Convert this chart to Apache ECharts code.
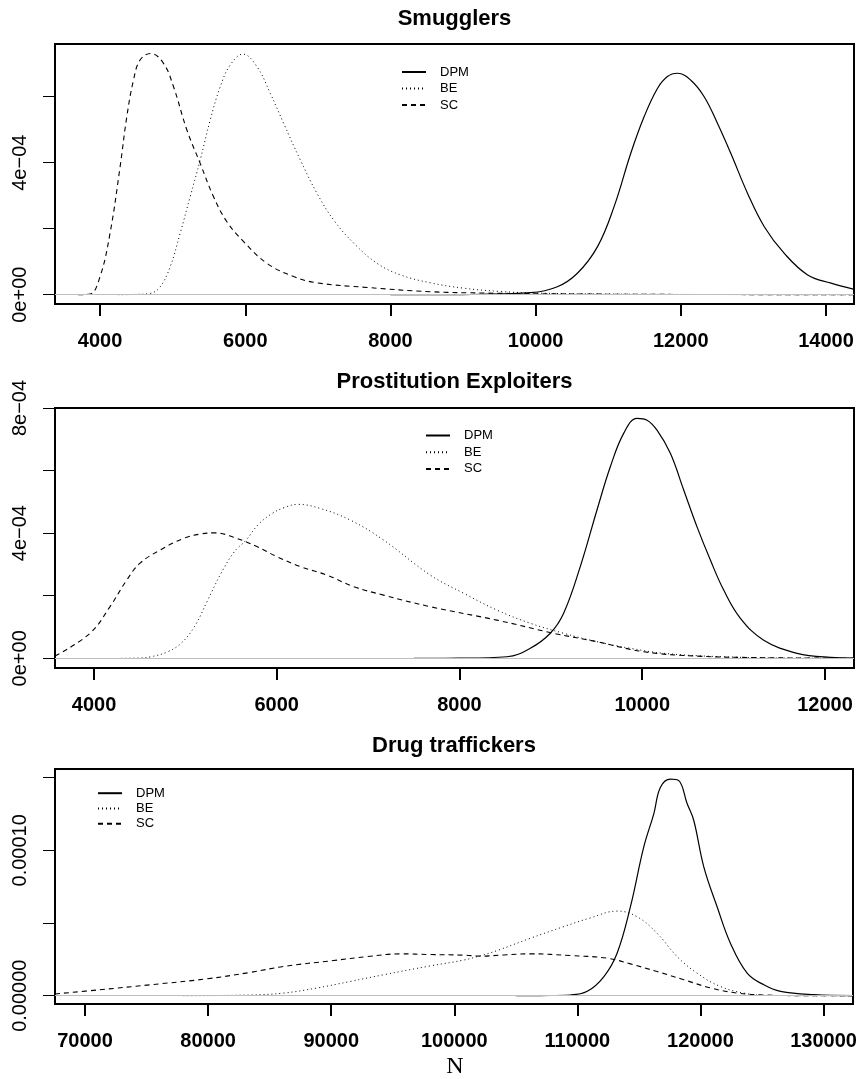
<!DOCTYPE html>
<html>
<head>
<meta charset="utf-8">
<title>Posterior densities of N</title>
<script src="https://cdn.jsdelivr.net/npm/echarts@6.0.0/dist/echarts.min.js"></script>
<style>
  html, body { margin: 0; padding: 0; background: #fff; }
  #chart { width: 858px; height: 1079px; }
</style>
</head>
<body>
<div id="chart"></div>
<script>
// ---- data (y in units of 1e-4 for panels 1,2 and 1e-5 for panel 3) ----
var panelTitles = ['Smugglers', 'Prostitution Exploiters', 'Drug traffickers'];
var seriesNames = ['DPM', 'BE', 'SC'];

// Smugglers
var smugDpmX = [8000, 9000, 9931, 10299, 10575, 10851, 11081, 11310, 11494, 11678, 11816, 11954, 12138, 12322, 12506, 12690, 12920, 13150, 13426, 13748, 14070, 14390];
var smugDpmY = [0, 0.005, 0.06, 0.24, 0.65, 1.45, 2.67, 4.28, 5.39, 6.25, 6.61, 6.71, 6.5, 6.0, 5.19, 4.28, 3.07, 2.06, 1.25, 0.6, 0.35, 0.16];
var smugBeX = [4250, 4500, 4690, 4828, 4966, 5103, 5241, 5379, 5517, 5655, 5793, 5968, 6161, 6345, 6529, 6759, 6989, 7219, 7495, 7816, 8138, 8551, 9000, 9500, 10000, 11000, 12500, 14400];
var smugBeY = [0, 0.01, 0.04, 0.24, 0.85, 1.86, 2.97, 4.08, 5.29, 6.3, 6.96, 7.29, 6.91, 6.1, 5.19, 4.08, 3.07, 2.26, 1.56, 0.95, 0.6, 0.36, 0.2, 0.1, 0.05, 0.02, 0.005, 0];
var smugScX = [3700, 3862, 4000, 4138, 4276, 4368, 4460, 4551, 4699, 4874, 5012, 5196, 5379, 5563, 5747, 5977, 6299, 6667, 6989, 7678, 8551, 9300, 10000, 11000, 12500, 14400];
var smugScY = [0, 0.02, 0.55, 1.87, 3.88, 5.39, 6.5, 7.11, 7.31, 7.01, 6.3, 4.99, 3.98, 2.97, 2.21, 1.61, 0.95, 0.55, 0.36, 0.22, 0.09, 0.05, 0.03, 0.015, 0.005, 0];

// Prostitution Exploiters
var protDpmX = [7500, 8000, 8520, 8775, 8994, 9140, 9322, 9505, 9651, 9797, 9943, 10053, 10162, 10308, 10454, 10600, 10746, 10892, 11075, 11330, 11695, 12060, 12320];
var protDpmY = [0, 0.005, 0.05, 0.32, 0.8, 1.44, 2.93, 4.74, 6.12, 7.19, 7.67, 7.61, 7.29, 6.55, 5.38, 4.2, 3.14, 2.18, 1.28, 0.58, 0.16, 0.03, 0.01];
var protBeX = [4300, 4504, 4625, 4807, 4953, 5099, 5245, 5391, 5537, 5665, 5793, 5939, 6085, 6231, 6475, 6803, 7169, 7680, 8045, 8410, 8775, 9140, 9505, 9870, 10235, 10782, 11500, 12320];
var protBeY = [0, 0.01, 0.05, 0.21, 0.48, 1.01, 1.86, 2.72, 3.41, 3.78, 4.26, 4.61, 4.82, 4.92, 4.79, 4.42, 3.78, 2.66, 2.08, 1.54, 1.12, 0.8, 0.53, 0.32, 0.16, 0.06, 0.01, 0];
var protScX = [3573, 3956, 4175, 4358, 4504, 4723, 4978, 5161, 5325, 5526, 5782, 6001, 6257, 6549, 6841, 7169, 7680, 8410, 9030, 9505, 10016, 10600, 11330, 12000, 12320];
var protScY = [0.07, 0.8, 1.65, 2.5, 3.04, 3.46, 3.83, 3.97, 4.01, 3.87, 3.57, 3.25, 2.93, 2.66, 2.29, 2.02, 1.65, 1.22, 0.8, 0.53, 0.21, 0.07, 0.02, 0.005, 0];

// Drug traffickers
var drugDpmX = [105000, 107000, 109443, 110800, 112155, 113225, 114309, 115393, 116207, 116748, 117561, 118236, 118919, 119455, 120268, 121350, 122431, 123789, 125145, 126500, 129213, 132390];
var drugDpmY = [0, 0.01, 0.05, 0.3, 1.32, 2.92, 6.12, 10.23, 12.51, 14.34, 14.9, 14.79, 13.2, 12.05, 8.86, 6.12, 3.61, 1.55, 0.75, 0.3, 0.07, 0.01];
var drugBeX = [78000, 83415, 86124, 88834, 91545, 94254, 98049, 100758, 102126, 103467, 106177, 108887, 111057, 113225, 114850, 116476, 118102, 119728, 121598, 123768, 125500, 132390];
var drugBeY = [0, 0.05, 0.18, 0.53, 0.98, 1.44, 2.05, 2.45, 2.75, 3.1, 3.95, 4.75, 5.35, 5.82, 5.43, 4.29, 2.69, 1.55, 0.64, 0.14, 0.02, 0];
var drugScX = [67561, 71220, 75285, 79894, 83415, 86124, 90191, 92902, 95610, 98049, 100758, 102126, 104000, 106191, 109443, 112423, 114309, 116480, 118642, 120837, 123008, 125175, 127000, 132390];
var drugScY = [0.12, 0.41, 0.75, 1.16, 1.6, 2.01, 2.42, 2.69, 2.88, 2.83, 2.79, 2.72, 2.8, 2.88, 2.76, 2.58, 2.19, 1.66, 1.1, 0.53, 0.18, 0.05, 0.01, 0];

var yUnits = [1e-4, 1e-4, 1e-5];

// axis ranges and ticks
var xRanges = [[3379, 14386], [3573, 12318], [67561, 132390]];
var xTicks = [[4000, 6000, 8000, 10000, 12000, 14000], [4000, 6000, 8000, 10000, 12000], [70000, 80000, 90000, 100000, 110000, 120000, 130000]];
var yRanges = [[-0.282e-4, 7.597e-4], [-0.31e-4, 8.0e-4], [-0.057e-4, 1.559e-4]];
var yTicks = [[0, 2e-4, 4e-4, 6e-4], [0, 2e-4, 4e-4, 6e-4, 8e-4], [0, 5e-5, 1e-4, 1.5e-4]];
var yTickLabels = [[0, 4e-4], [0, 4e-4, 8e-4], [0, 1e-4]];

var grids = [
    {left: 55, top: 44, width: 799, height: 260},
    {left: 55, top: 408, width: 799, height: 260},
    {left: 55, top: 769, width: 798, height: 235}
];

var FONT = '"Liberation Sans", Arial, Helvetica, sans-serif';

// R style "4e-04"
function sciLabel(v) {
    if (v === 0) return '0e+00';
    var p = v.toExponential(0).split('e');
    var e = parseInt(p[1], 10);
    var a = Math.abs(e);
    return p[0] + 'e' + (e < 0 ? '\u2212' : '+') + (a < 10 ? '0' : '') + a;
}
function fixedLabel(v) {
    return v.toFixed(5);
}

function pairs(xs, ys, unit) {
    return xs.map(function(x, i) { return [x, ys[i] * unit]; });
}

var panelData = [
    [[smugDpmX, smugDpmY], [smugBeX, smugBeY], [smugScX, smugScY]],
    [[protDpmX, protDpmY], [protBeX, protBeY], [protScX, protScY]],
    [[drugDpmX, drugDpmY], [drugBeX, drugBeY], [drugScX, drugScY]]
];

var lineTypes = ['solid', [1, 3], [5, 4]];
var lineWidths = [1.2, 1, 1.1];

var xAxes = [], yAxes = [], series = [], gridOpts = [], graphics = [];

for (var p = 0; p < 3; p++) {
    var g = grids[p];
    gridOpts.push({
        left: g.left, top: g.top, width: g.width, height: g.height,
        show: true, borderColor: '#000', borderWidth: 2,
        containLabel: false, outerBoundsMode: 'none'
    });

    xAxes.push({
        gridIndex: p, type: 'value',
        min: xRanges[p][0], max: xRanges[p][1],
        axisLine: {show: false, onZero: false},
        splitLine: {show: false},
        axisTick: {show: true, length: 12, customValues: xTicks[p], lineStyle: {color: '#000', width: 2}},
        axisLabel: {
            customValues: xTicks[p], margin: 27,
            fontSize: 20, fontWeight: 'bold', fontFamily: FONT, color: '#000',
            formatter: function(v) { return String(v); }
        }
    });

    yAxes.push({
        gridIndex: p, type: 'value',
        min: yRanges[p][0], max: yRanges[p][1],
        axisLine: {show: false, onZero: false},
        splitLine: {show: false},
        axisTick: {show: true, length: 12, customValues: yTicks[p], lineStyle: {color: '#000', width: 1}},
        axisLabel: {
            customValues: yTickLabels[p], rotate: 90, margin: 25,
            fontSize: 20, fontFamily: FONT, color: '#000',
            formatter: p === 2 ? fixedLabel : sciLabel
        }
    });

    for (var s = 0; s < 3; s++) {
        var item = {
            name: seriesNames[s], type: 'line',
            xAxisIndex: p, yAxisIndex: p,
            data: pairs(panelData[p][s][0], panelData[p][s][1], yUnits[p]),
            symbol: 'none', smooth: 0.4,
            lineStyle: {color: '#000', width: lineWidths[s], type: lineTypes[s]},
            itemStyle: {color: '#000'},
            z: 3
        };
        if (s === 0) {
            // grey zero line, abline(h = 0)
            item.markLine = {
                silent: true, symbol: 'none', label: {show: false},
                lineStyle: {color: '#bebebe', type: 'solid', width: 1},
                data: [{yAxis: 0}]
            };
        }
        series.push(item);
    }

    graphics.push({
        type: 'text', x: g.left + g.width / 2, y: [19, 382, 746][p],
        style: {text: panelTitles[p], fontSize: 22, fontWeight: 'bold', fontFamily: FONT, fill: '#000', align: 'center', verticalAlign: 'middle'}
    });
}

graphics.push({
    type: 'text', x: 455, y: 1067,
    style: {text: 'N', fontSize: 24, fontFamily: '"Liberation Serif", "Times New Roman", serif', fill: '#000', align: 'center', verticalAlign: 'middle'}
});

// legends: line only, no marker
var legendBase = {
    orient: 'vertical', itemWidth: 24, itemHeight: 13, padding: 0,
    data: seriesNames, selectedMode: false,
    itemStyle: {opacity: 0},
    textStyle: {fontSize: 13, fontFamily: FONT, color: '#000', padding: [0, 0, 0, 9]}
};
var legends = [
    Object.assign({}, legendBase, {left: 401, top: 65.5, itemGap: 3.5}),
    Object.assign({}, legendBase, {left: 425, top: 429, itemGap: 3.7}),
    Object.assign({}, legendBase, {left: 97, top: 786.7, itemGap: 2.3})
];

var myChart = echarts.init(document.getElementById('chart'));
myChart.setOption({
    animation: false,
    backgroundColor: '#fff',
    grid: gridOpts,
    xAxis: xAxes,
    yAxis: yAxes,
    legend: legends,
    graphic: graphics,
    series: series
});
</script>
</body>
</html>
